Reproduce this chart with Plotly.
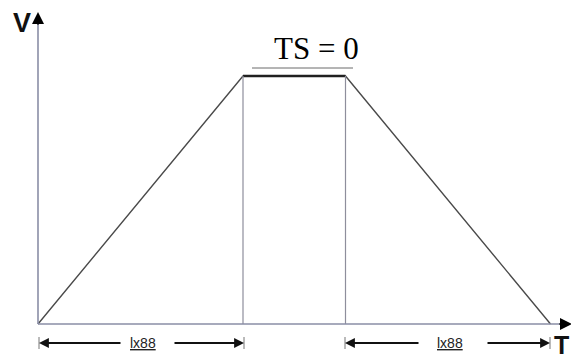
import plotly.graph_objects as go

# Data: trapezoidal velocity profile (time units, normalized velocity)
phase_times = [0, 2, 3, 5]
velocity = [0, 1, 1, 0]
dim_label = "lx88"
plateau_label = "TS = 0"
y_axis_label = "V"
x_axis_label = "T"

# pixel->data mapping helpers for the axis ranges (571x360 canvas, zero margins)
px_per_t = 102.5
px_per_v = 248.0
x0_px, y0_px = 38.0, 324.0
xr = [(0 - x0_px) / px_per_t, (571 - x0_px) / px_per_t]
yr = [(y0_px - 360) / px_per_v, (y0_px - 0) / px_per_v]

def px(xp):
    return (xp - x0_px) / px_per_t

def py(yp):
    return (y0_px - yp) / px_per_v

fig = go.Figure()

# trapezoid profile
fig.add_trace(go.Scatter(x=phase_times, y=velocity, mode="lines",
                         line=dict(color="#4a4a4a", width=1.4), hoverinfo="skip"))
# thick plateau
fig.add_trace(go.Scatter(x=phase_times[1:3], y=velocity[1:3], mode="lines",
                         line=dict(color="#202020", width=2.4), hoverinfo="skip"))

shapes = []
# vertical guide lines at plateau ends
for t in phase_times[1:3]:
    shapes.append(dict(type="line", x0=t, x1=t, y0=0, y1=1, xref="x", yref="y",
                       line=dict(color="#8e8e9c", width=1.2)))
# axes lines
shapes.append(dict(type="line", x0=0, x1=0, y0=0, y1=py(22), line=dict(color="#8a8ea6", width=1.6)))
shapes.append(dict(type="line", x0=0, x1=px(562), y0=0, y1=0, line=dict(color="#8a8ea6", width=1.6)))
# line above plateau
shapes.append(dict(type="line", x0=px(252), x1=px(353), y0=py(68), y1=py(68),
                   line=dict(color="#6a6a6a", width=1)))
# small end ticks on dimension arrows
for xp in [39, 244, 345, 550]:
    shapes.append(dict(type="line", x0=px(xp), x1=px(xp), y0=py(337), y1=py(349),
                       line=dict(color="#777777", width=1)))

annotations = []
# axis arrowheads
annotations.append(dict(x=0, y=py(12), ax=0, ay=py(26), xref="x", yref="y", axref="x", ayref="y",
                        text="", showarrow=True, arrowhead=2, arrowsize=1.2, arrowwidth=2, arrowcolor="black"))
annotations.append(dict(x=px(572), y=0, ax=px(558), ay=0, xref="x", yref="y", axref="x", ayref="y",
                        text="", showarrow=True, arrowhead=2, arrowsize=1.2, arrowwidth=2, arrowcolor="black"))

# dimension arrows
ya = py(343)
for (a, b, c, d) in [(39, 122, 173, 244), (345, 420, 486, 550)]:
    annotations.append(dict(x=px(a), y=ya, ax=px(b), ay=ya, xref="x", yref="y", axref="x", ayref="y",
                            text="", showarrow=True, arrowhead=2, arrowsize=1.1, arrowwidth=1.8, arrowcolor="#111111"))
    annotations.append(dict(x=px(d), y=ya, ax=px(c), ay=ya, xref="x", yref="y", axref="x", ayref="y",
                            text="", showarrow=True, arrowhead=2, arrowsize=1.1, arrowwidth=1.8, arrowcolor="#111111"))

# dimension labels
for cx in [(phase_times[0] + phase_times[1]) / 2 + px(40) - px(38),
           (phase_times[2] + phase_times[3]) / 2 + px(40) - px(38)]:
    annotations.append(dict(x=cx, y=ya, text="<u>" + dim_label + "</u>", showarrow=False,
                            font=dict(family="Liberation Sans Narrow, Arial Narrow, Liberation Sans, Arial",
                                      size=14, color="#222222"),
                            xanchor="center", yanchor="middle"))

# plateau label
annotations.append(dict(x=px(316), y=py(48),
                        text=plateau_label, showarrow=False,
                        font=dict(family="Liberation Serif, Times New Roman, serif", size=31, color="#000000"),
                        xanchor="center", yanchor="middle"))
# axis labels
annotations.append(dict(x=px(22), y=py(23), text="<b>" + y_axis_label + "</b>", showarrow=False,
                        font=dict(family="Liberation Sans, Arial", size=27, color="#111111"),
                        xanchor="center", yanchor="middle"))
annotations.append(dict(x=px(571), y=py(345), text="<b>" + x_axis_label + "</b>", showarrow=False,
                        font=dict(family="Liberation Sans, Arial", size=25, color="#111111"),
                        xanchor="right", yanchor="middle"))

fig.update_layout(
    width=571, height=360,
    margin=dict(l=0, r=0, t=0, b=0),
    paper_bgcolor="white", plot_bgcolor="white",
    showlegend=False,
    xaxis=dict(range=xr, visible=False, fixedrange=True),
    yaxis=dict(range=yr, visible=False, fixedrange=True),
    shapes=shapes, annotations=annotations,
)

fig.write_html("out.html", config={"displayModeBar": False},
               post_script="document.body.style.margin='0px';document.body.style.overflow='hidden';")
